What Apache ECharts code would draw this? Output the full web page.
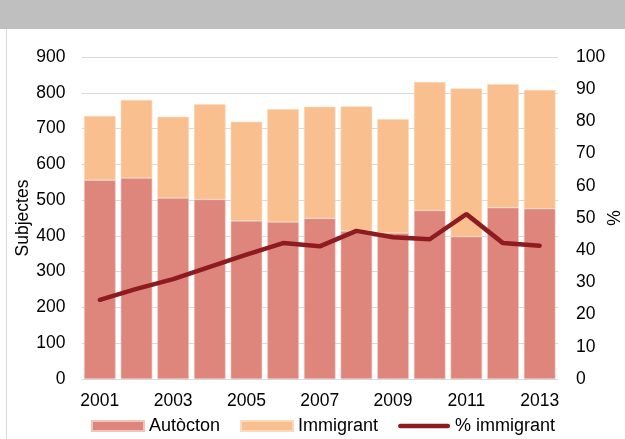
<!DOCTYPE html>
<html><head><meta charset="utf-8">
<script src="https://cdn.jsdelivr.net/npm/echarts@6/dist/echarts.min.js"></script>
<style>html,body{margin:0;padding:0;background:#fff}#c{width:625px;height:439px}</style>
</head><body><div id="c"></div>
<script>
var years = ['2001','2002','2003','2004','2005','2006','2007','2008','2009','2010','2011','2012','2013'];
var autocton = [556, 562, 506, 502, 442, 439, 449, 414, 408, 471, 398, 479, 476];
var immigrant = [179, 218, 227, 266, 277, 315, 312, 348, 318, 359, 414, 345, 332];
var pctImmigrant = [24.6, 28.0, 31.0, 34.8, 38.6, 42.2, 41.2, 46.0, 44.0, 43.4, 51.2, 42.2, 41.4];

var chart = echarts.init(document.getElementById('c'));
var font = 'Liberation Sans, Arial, sans-serif';
var lineIcon = 'path://M2.5,0H52.5A2.5,2.5,0,0,1,52.5,5H2.5A2.5,2.5,0,0,1,2.5,0Z';
chart.setOption({
  animation: false,
  textStyle: {fontFamily: font},
  graphic: [
    {type: 'rect', shape: {x: 0, y: 0, width: 625, height: 29}, style: {fill: '#bfbfbf'}},
    {type: 'line', shape: {x1: 6.5, y1: 29, x2: 6.5, y2: 439}, style: {stroke: '#d9d9d9', lineWidth: 1}}
  ],
  grid: {left: 81.5, right: 67, top: 57, bottom: 60, outerBoundsMode: 'none'},
  legend: {
    top: 417, left: 91, padding: 0,
    itemWidth: 52, itemHeight: 10, itemGap: 20,
    textStyle: {fontSize: 18, color: '#000', fontFamily: font},
    data: [
      {name: 'Autòcton', icon: 'rect'},
      {name: 'Immigrant', icon: 'rect'},
      {name: '% immigrant', icon: lineIcon}
    ]
  },
  xAxis: {
    type: 'category', data: years,
    axisTick: {show: false},
    axisLine: {show: false},
    axisLabel: {interval: 1, fontSize: 17.5, color: '#000', margin: 13}
  },
  yAxis: [
    {type: 'value', min: 0, max: 900, interval: 100,
     name: 'Subjectes', nameLocation: 'middle', nameGap: 49, nameRotate: 90, nameMoveOverlap: false,
     nameTextStyle: {fontSize: 17.5, color: '#000'},
     axisLabel: {fontSize: 17.5, color: '#000', margin: 16},
     splitLine: {lineStyle: {color: '#d9d9d9'}},
     axisLine: {show: false}, axisTick: {show: false}},
    {type: 'value', min: 0, max: 100, interval: 10,
     name: '%', nameLocation: 'middle', nameGap: 48, nameRotate: 90, nameMoveOverlap: false,
     nameTextStyle: {fontSize: 17.5, color: '#000'},
     axisLabel: {fontSize: 17.5, color: '#000', margin: 18},
     splitLine: {show: false},
     axisLine: {show: false}, axisTick: {show: false}}
  ],
  series: [
    {name: 'Autòcton', type: 'bar', stack: 's', data: autocton, barCategoryGap: '14%',
     itemStyle: {color: '#de857c', borderColor: '#f2c4bd', borderWidth: 0.6}},
    {name: 'Immigrant', type: 'bar', stack: 's', data: immigrant, barCategoryGap: '14%',
     itemStyle: {color: '#f9bf8f', borderColor: '#fbd9bb', borderWidth: 0.6}},
    {name: '% immigrant', type: 'line', yAxisIndex: 1, data: pctImmigrant,
     symbol: 'none', lineStyle: {color: '#8e1b1f', width: 4.5, cap: 'round'},
     itemStyle: {color: '#8e1b1f'}}
  ]
});
</script></body></html>
